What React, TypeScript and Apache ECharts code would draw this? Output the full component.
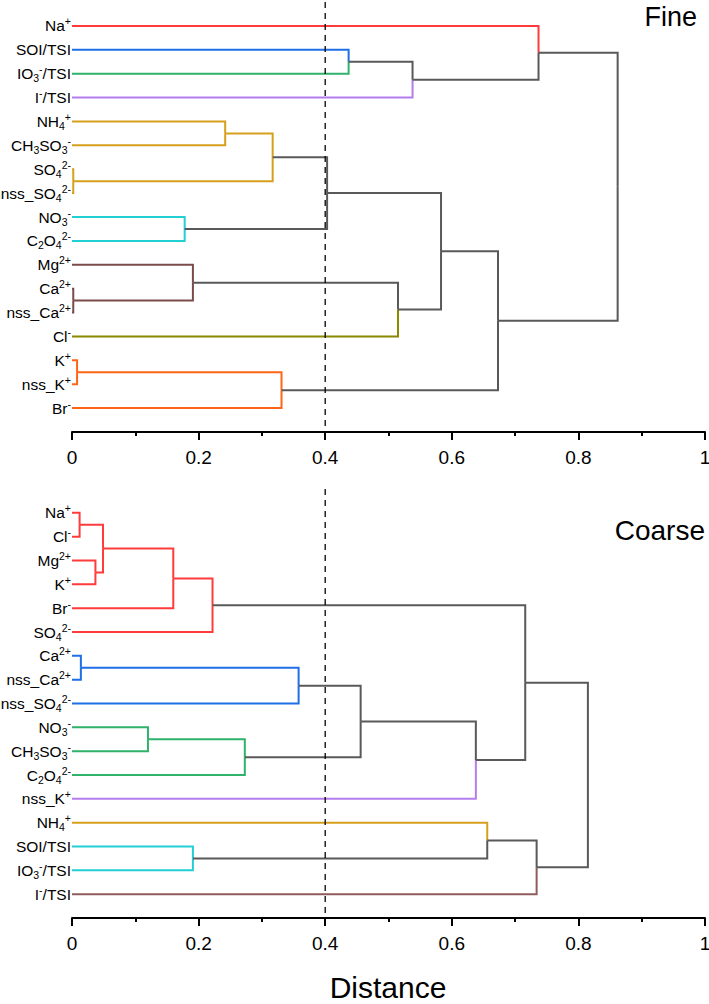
import React, { useEffect, useRef } from 'react';
import * as echarts from 'echarts';

const FONT = '"Liberation Sans", Arial, sans-serif';

// Leaf labels (rich-text markup: {b|..} subscript, {p|..} superscript)
const fineLabels = [
  'Na{p|+}', 'SOI/TSI', 'IO{b|3}{p|-}/TSI', 'I{p|-}/TSI', 'NH{b|4}{p|+}', 'CH{b|3}SO{b|3}{p|-}',
  'SO{b|4}{p|2-}', 'nss_SO{b|4}{p|2-}', 'NO{b|3}{p|-}', 'C{b|2}O{b|4}{p|2-}', 'Mg{p|2+}', 'Ca{p|2+}',
  'nss_Ca{p|2+}', 'Cl{p|-}', 'K{p|+}', 'nss_K{p|+}', 'Br{p|-}',
];
const coarseLabels = [
  'Na{p|+}', 'Cl{p|-}', 'Mg{p|2+}', 'K{p|+}', 'Br{p|-}', 'SO{b|4}{p|2-}', 'Ca{p|2+}', 'nss_Ca{p|2+}',
  'nss_SO{b|4}{p|2-}', 'NO{b|3}{p|-}', 'CH{b|3}SO{b|3}{p|-}', 'C{b|2}O{b|4}{p|2-}', 'nss_K{p|+}',
  'NH{b|4}{p|+}', 'SOI/TSI', 'IO{b|3}{p|-}/TSI', 'I{p|-}/TSI',
];

// Colours
const RED = '#ff3b3b';
const BLUE = '#1f6fe5';
const GREEN = '#2fb36b';
const PURPLE = '#b47ded';
const GOLD = '#d6a01c';
const CYAN = '#22cfd3';
const BROWN = '#7b4b4b';
const OLIVE = '#8a8a00';
const ORANGE = '#ff6516';
const BROWN2 = '#8f5b5b';
const GRAY = '#595959';

// Fine: merges (children indices; leaves 0..16, merge k -> 17+k), heights, colours
const fineMerges = [
  [6, 7], [11, 12], [14, 15], [8, 9], [10, 18], [4, 5], [22, 17], [19, 16],
  [23, 20], [1, 2], [21, 13], [26, 3], [25, 27], [29, 24], [0, 28], [31, 30],
];
const fineHeights = [0.002, 0.002, 0.008, 0.178, 0.191, 0.242, 0.317, 0.331, 0.403, 0.437, 0.515, 0.538, 0.583, 0.673, 0.737, 0.862];
const fineLeafColors = [RED, BLUE, GREEN, PURPLE, GOLD, GOLD, GOLD, GOLD, CYAN, CYAN, BROWN, BROWN, BROWN, OLIVE, ORANGE, ORANGE, ORANGE];
const fineMergeColors = [GOLD, BROWN, ORANGE, GRAY, GRAY, GOLD, GRAY, GRAY, GRAY, GRAY, GRAY, GRAY, GRAY, GRAY, GRAY, GRAY];

// Coarse
const coarseMerges = [
  [0, 1], [6, 7], [2, 3], [17, 19], [9, 10], [20, 4], [14, 15], [22, 5],
  [21, 11], [18, 8], [26, 25], [27, 12], [13, 23], [24, 28], [29, 16], [30, 31],
];
const coarseHeights = [0.012, 0.014, 0.037, 0.049, 0.12, 0.16, 0.191, 0.222, 0.273, 0.358, 0.456, 0.638, 0.656, 0.716, 0.734, 0.815];
const coarseLeafColors = [RED, RED, RED, RED, RED, RED, BLUE, BLUE, BLUE, GREEN, GREEN, GREEN, PURPLE, GOLD, CYAN, CYAN, BROWN2];
const coarseMergeColors = [RED, BLUE, RED, RED, GREEN, RED, GRAY, GRAY, GRAY, GRAY, GRAY, GRAY, GRAY, GRAY, GRAY, GRAY];

const xTicks = [0, 0.2, 0.4, 0.6, 0.8, 1];
const threshold = 0.4;

function buildLinks(n: number, merges: number[][], heights: number[], leafColors: string[], mergeColors: string[]) {
  const xs: number[] = [];
  const ys: number[] = [];
  for (let i = 0; i < n; i++) { xs.push(0); ys.push(i); }
  const links: any[] = [];
  merges.forEach(([a, b], k) => {
    const h = heights[k];
    const y = (ys[a] + ys[b]) / 2;
    xs.push(h); ys.push(y);
    [a, b].forEach((c) => {
      const color = c < n ? leafColors[c] : mergeColors[c - n];
      links.push({ coords: [[xs[c], ys[c]], [h, ys[c]], [h, y]], lineStyle: { color } });
    });
  });
  return links;
}

const rich = {
  b: { fontSize: 10.5, fontFamily: FONT, color: '#000', verticalAlign: 'bottom', lineHeight: 10 },
  p: { fontSize: 10.5, fontFamily: FONT, color: '#000', verticalAlign: 'top', lineHeight: 10 },
};

function makeX(gridIndex: number) {
  return {
    type: 'value', gridIndex, min: 0, max: 1, interval: 0.2,
    axisLine: { show: true, onZero: false, lineStyle: { color: '#000', width: 2 } },
    axisTick: { show: true, length: 8, lineStyle: { color: '#000', width: 2 } },
    minorTick: { show: true, splitNumber: 2, length: 4, lineStyle: { color: '#000', width: 2 } },
    axisLabel: {
      fontSize: 19, color: '#000', margin: 16, fontFamily: FONT,
      formatter: (v: number) => { const t = xTicks.find((x) => Math.abs(x - v) < 1e-9); return t === undefined ? '' : String(t); },
    },
    splitLine: { show: false },
  };
}

function makeY(gridIndex: number, labels: string[]) {
  return {
    type: 'value', gridIndex, inverse: true, min: -1, max: 17, interval: 1,
    axisLine: { show: false }, axisTick: { show: false }, splitLine: { show: false },
    axisLabel: {
      fontSize: 15.5, color: '#000', fontFamily: FONT, margin: 1, lineHeight: 20, rich,
      formatter: (v: number) => {
        const i = Math.round(v);
        return Math.abs(i - v) < 1e-6 && i >= 0 && i < labels.length ? labels[i] : '';
      },
    },
  };
}

export default function App() {
  const ref = useRef<HTMLDivElement>(null);
  useEffect(() => {
    document.body.style.margin = '0';
    const chart = echarts.init(ref.current!, undefined, { renderer: 'svg' });
    const fineLinks = buildLinks(fineLabels.length, fineMerges, fineHeights, fineLeafColors, fineMergeColors);
    const coarseLinks = buildLinks(coarseLabels.length, coarseMerges, coarseHeights, coarseLeafColors, coarseMergeColors);
    const linkSeries = (data: any[], idx: number) => ({
      type: 'lines', coordinateSystem: 'cartesian2d', xAxisIndex: idx, yAxisIndex: idx, polyline: true,
      lineStyle: { width: 2, opacity: 1, cap: 'butt', join: 'miter' }, data, silent: true, z: 2,
    });
    const dashSeries = (idx: number) => ({
      type: 'lines', coordinateSystem: 'cartesian2d', xAxisIndex: idx, yAxisIndex: idx, polyline: true,
      lineStyle: { width: 1.3, color: '#000', type: [6, 5], opacity: 1 },
      data: [{ coords: [[threshold, -1], [threshold, 17]] }], silent: true, z: 3,
    });
    chart.setOption({
      animation: false,
      backgroundColor: '#fff',
      grid: [
        { left: 72, width: 633, top: 2, height: 430, outerBoundsMode: 'none', containLabel: false },
        { left: 72, width: 633, top: 489, height: 429, outerBoundsMode: 'none', containLabel: false },
      ],
      xAxis: [makeX(0), makeX(1)],
      yAxis: [makeY(0, fineLabels), makeY(1, coarseLabels)],
      series: [linkSeries(fineLinks, 0), linkSeries(coarseLinks, 1), dashSeries(0), dashSeries(1)],
      graphic: [
        { type: 'text', x: 697, y: 17, style: { text: 'Fine', font: `27px ${FONT}`, fill: '#000', textAlign: 'right', textVerticalAlign: 'middle' } },
        { type: 'text', x: 705, y: 530, style: { text: 'Coarse', font: `28px ${FONT}`, fill: '#000', textAlign: 'right', textVerticalAlign: 'middle' } },
        { type: 'text', x: 388, y: 987, style: { text: 'Distance', font: `30px ${FONT}`, fill: '#000', textAlign: 'center', textVerticalAlign: 'middle' } },
      ],
    });
    return () => chart.dispose();
  }, []);
  return <div ref={ref} style={{ width: 709, height: 1004 }} />;
}
